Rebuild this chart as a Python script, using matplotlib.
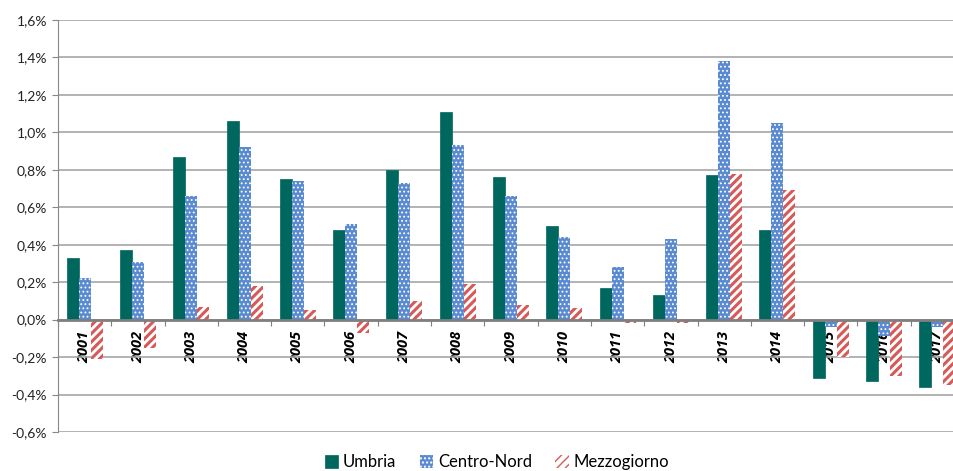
import matplotlib
matplotlib.use("Agg")
import matplotlib.pyplot as plt
import numpy as np

# variazioni annue (%) per area
anni = [str(a) for a in range(2001, 2018)]
umbria = [0.33, 0.37, 0.87, 1.06, 0.75, 0.48, 0.80, 1.11, 0.76, 0.50,
          0.17, 0.13, 0.77, 0.48, -0.31, -0.33, -0.36]
centro_nord = [0.22, 0.31, 0.66, 0.92, 0.74, 0.51, 0.73, 0.93, 0.66, 0.44,
               0.28, 0.43, 1.38, 1.05, -0.04, -0.09, -0.04]
mezzogiorno = [-0.21, -0.15, 0.07, 0.18, 0.05, -0.07, 0.10, 0.19, 0.08, 0.06,
               -0.02, -0.02, 0.78, 0.69, -0.20, -0.30, -0.35]

plt.rcParams['font.family'] = ['Lato', 'DejaVu Sans']
plt.rcParams['hatch.linewidth'] = 1.0

fig = plt.figure(figsize=(9.54, 4.71), dpi=100)
ax = fig.add_axes([58 / 954, 1 - 432 / 471, 906 / 954, 412 / 471])

x = np.arange(len(anni))
w = 0.225

ax.bar(x - w, umbria, w, color='#00675E', edgecolor='#00675E', lw=0.5,
       label='Umbria', zorder=3)
cn = ax.bar(x, centro_nord, w, color='#5A8AD0', edgecolor='white', hatch='....',
            lw=0, label='Centro-Nord', zorder=3)
mz = ax.bar(x + w, mezzogiorno, w, color='white', edgecolor='#D65A57',
            hatch='////', lw=0, label='Mezzogiorno', zorder=3)
for bars, hw in ((cn, 0.8), (mz, 2.2)):
    for p in bars:
        try:
            p.set_hatch_linewidth(hw)
        except AttributeError:
            pass

ax.set_xlim(-0.5, len(anni) - 0.5)
ax.set_ylim(-0.6, 1.6)
yt = np.arange(-0.6, 1.61, 0.2)
ax.set_yticks(yt)
ax.set_yticklabels([f"{v:.1f}%".replace('.', ',').replace('-0,0', '0,0') for v in yt],
                   fontsize=10, color='#222222')
ax.tick_params(axis='y', length=4, color='#888888', pad=4)
ax.yaxis.grid(True, color='#A6A6A6', lw=1.2, zorder=0)

# asse delle categorie sullo zero, con etichette ruotate
ax.spines['bottom'].set_position(('data', 0))
ax.spines['bottom'].set_color('#7F7F7F')
ax.spines['bottom'].set_linewidth(2)
ax.spines['bottom'].set_zorder(4)
ax.spines['left'].set_color('#888888')
ax.spines['top'].set_visible(False)
ax.spines['right'].set_visible(False)

ax.set_xticks(np.arange(-0.5, len(anni), 1.0))
ax.set_xticklabels([])
ax.tick_params(axis='x', which='major', length=4, color='#7F7F7F', direction='out')
ax.set_xticks(x, minor=True)
ax.set_xticklabels(anni, minor=True, rotation=90, fontsize=10.5,
                   fontweight='bold', fontstyle='italic', color='black',
                   family=['Open Sans', 'DejaVu Sans'])
ax.tick_params(axis='x', which='minor', length=0, pad=8)
for lab in ax.get_xticklabels(minor=True):
    lab.set_zorder(5)

leg = fig.legend(loc='center', bbox_to_anchor=(497 / 954, 1 - 462 / 471), ncol=3,
                 frameon=False, fontsize=12, handlelength=0.8, handleheight=0.8,
                 handletextpad=0.3, columnspacing=1.4)

fig.savefig('out.png', dpi=100)
